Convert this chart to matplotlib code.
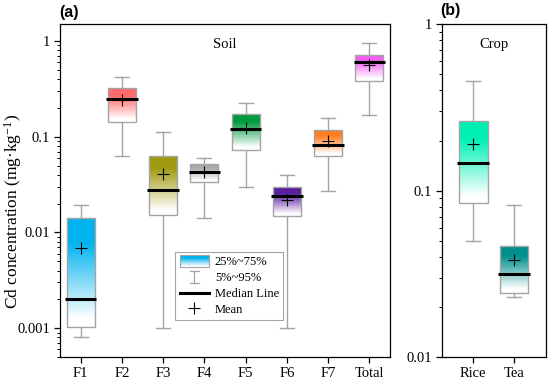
import numpy as np
import matplotlib
matplotlib.use("Agg")
import matplotlib.pyplot as plt
from matplotlib.patches import Rectangle
from matplotlib.lines import Line2D
from matplotlib.legend_handler import HandlerBase
from matplotlib.colors import to_rgb

plt.rcParams['font.family'] = ['Liberation Serif', 'DejaVu Serif']
plt.rcParams['font.size'] = 10.5
plt.rcParams['mathtext.fontset'] = 'custom'
plt.rcParams['mathtext.rm'] = 'Liberation Serif'
plt.rcParams['mathtext.it'] = 'Liberation Serif:italic'

# soil (a)
soil_labels = ["F1", "F2", "F3", "F4", "F5", "F6", "F7", "Total"]
soil_p5 = [0.00081, 0.063, 0.001, 0.0141, 0.0295, 0.001, 0.027, 0.168]
soil_q1 = [0.00103, 0.143, 0.0153, 0.0335, 0.073, 0.0148, 0.063, 0.383]
soil_med = [0.00203, 0.247, 0.028, 0.0432, 0.121, 0.024, 0.082, 0.604]
soil_mean = [0.0068, 0.24, 0.0406, 0.043, 0.124, 0.0219, 0.0908, 0.558]
soil_q3 = [0.0141, 0.319, 0.0634, 0.0523, 0.174, 0.0297, 0.117, 0.721]
soil_p95 = [0.0194, 0.425, 0.112, 0.0596, 0.223, 0.040, 0.157, 0.953]
soil_colors = ["#00b2ee", "#ff6a6a", "#a09a10", "#aaaaaa", "#009a3e",
               "#5a1fa0", "#ff7f20", "#f060f0"]

# crop (b)
crop_labels = ["Rice", "Tea"]
crop_p5 = [0.050, 0.0231]
crop_q1 = [0.084, 0.0244]
crop_med = [0.146, 0.0316]
crop_mean = [0.192, 0.0383]
crop_q3 = [0.261, 0.0465]
crop_p95 = [0.458, 0.0817]
crop_colors = ["#00f0b4", "#00908c"]

GREY = "#a4a4a4"


def frac_color(c, t):
    # t = 0 at top of box, 1 at bottom
    w = np.clip((0.92 - t) / 0.7, 0, 1)
    rgb = np.array(to_rgb(c))
    return tuple(rgb * w + (1 - w))


def draw_box(ax, x, p5, q1, med, mean, q3, p95, color, width=0.68):
    lo, hi = np.log10(q1), np.log10(q3)
    n = 60
    edges = np.linspace(hi, lo, n + 1)
    for i in range(n):
        t = (i + 0.5) / n
        ax.add_patch(Rectangle((x - width / 2, 10 ** edges[i + 1]), width,
                               10 ** edges[i] - 10 ** edges[i + 1],
                               facecolor=frac_color(color, t), edgecolor='none',
                               zorder=2))
    ax.add_patch(Rectangle((x - width / 2, q1), width, q3 - q1, facecolor='none',
                           edgecolor=GREY, lw=1.0, zorder=3))
    ax.plot([x, x], [q3, p95], color=GREY, lw=1.0, zorder=1)
    ax.plot([x, x], [p5, q1], color=GREY, lw=1.0, zorder=1)
    ax.plot([x - width / 4, x + width / 4], [p95, p95], color=GREY, lw=1.0, zorder=1)
    ax.plot([x - width / 4, x + width / 4], [p5, p5], color=GREY, lw=1.0, zorder=1)
    ax.plot([x - width / 2 - 0.04, x + width / 2 + 0.04], [med, med], color='black',
            lw=2.2, zorder=4, solid_capstyle='butt')
    ax.plot([x], [mean], marker='+', color='black', ms=9, mew=0.8, zorder=5)


class GradHandler(HandlerBase):
    def create_artists(self, legend, orig_handle, xdescent, ydescent, width,
                       height, fontsize, trans):
        arts = []
        n = 20
        h = height * 1.4
        y0 = -ydescent - (h - height) / 2
        for i in range(n):
            t = (i + 0.5) / n
            arts.append(Rectangle((-xdescent, y0 + h * (1 - (i + 1) / n)), width, h / n,
                                  facecolor=frac_color("#00b2ee", t), edgecolor='none',
                                  transform=trans))
        arts.append(Rectangle((-xdescent, y0), width, h, facecolor='none',
                              edgecolor=GREY, lw=0.8, transform=trans))
        return arts


class WhiskerHandler(HandlerBase):
    def create_artists(self, legend, orig_handle, xdescent, ydescent, width,
                       height, fontsize, trans):
        cx = -xdescent + width / 2
        y0 = -ydescent - height * 0.2
        y1 = -ydescent + height * 1.2
        cw = width * 0.15
        lines = [Line2D([cx, cx], [y0, y1], color=GREY, lw=0.9, transform=trans),
                 Line2D([cx - cw, cx + cw], [y0, y0], color=GREY, lw=0.9, transform=trans),
                 Line2D([cx - cw, cx + cw], [y1, y1], color=GREY, lw=0.9, transform=trans)]
        return lines


fig = plt.figure(figsize=(5.5, 3.83), dpi=100)
ax1 = fig.add_axes([0.109, 0.068, 0.6, 0.869])
ax2 = fig.add_axes([0.803, 0.067, 0.189, 0.870])

for i in range(len(soil_labels)):
    draw_box(ax1, i + 1, soil_p5[i], soil_q1[i], soil_med[i], soil_mean[i],
             soil_q3[i], soil_p95[i], soil_colors[i])
for i in range(len(crop_labels)):
    draw_box(ax2, i + 1, crop_p5[i], crop_q1[i], crop_med[i], crop_mean[i],
             crop_q3[i], crop_p95[i], crop_colors[i], width=0.7)

ax1.set_yscale('log')
ax1.set_ylim(0.0005, 1.5)
ax1.set_xlim(0.5, len(soil_labels) + 0.5)
ax1.set_xticks(range(1, len(soil_labels) + 1))
ax1.set_xticklabels(soil_labels)
ax1.set_yticks([0.001, 0.01, 0.1, 1])
ax1.set_yticklabels(["0.001", "0.01", "0.1", "1"])
ax1.text(0.5, 0.94, "Soil", transform=ax1.transAxes, ha='center', va='center')

ax2.set_yscale('log')
ax2.set_ylim(0.01, 1)
ax2.set_xlim(0.223, 2.777)
ax2.set_xticks([1, 2])
ax2.set_xticklabels(crop_labels)
ax2.set_yticks([0.01, 0.1, 1])
ax2.set_yticklabels(["0.01", "0.1", "1"])
ax2.text(0.5, 0.94, "Crop", transform=ax2.transAxes, ha='center', va='center')

for ax in (ax1, ax2):
    ax.tick_params(which='major', length=4, width=0.9, right=False, top=False, pad=3)
    ax.tick_params(which='minor', length=2.2, width=0.7, right=False, top=False)
    ax.tick_params(axis='x', which='minor', bottom=False)
    for s in ax.spines.values():
        s.set_linewidth(0.9)

fig.text(13.5 / 550, 1 - 211 / 383, "Cd concentration (mg·kg$^{-1}$)", rotation=90,
         ha='center', va='center', fontsize=12.5)
fig.text(59 / 550, 1 - 12 / 383, "(a)", family='Liberation Sans', weight='bold',
         fontsize=11.5, va='center', ha='left')
fig.text(440 / 550, 1 - 11 / 383, "(b)", family='Liberation Sans', weight='bold',
         fontsize=11.5, va='center', ha='left')

handles = [Rectangle((0, 0), 1, 1), object(),
           Line2D([], [], color='black', lw=2.2),
           Line2D([], [], color='black', marker='+', ls='none', ms=9, mew=0.8)]
labels = ["25%~75%", "5%~95%", "Median Line", "Mean"]
leg = ax1.legend(handles, labels, loc='lower left', bbox_to_anchor=(0.35, 0.111),
                 handler_map={Rectangle: GradHandler(), object: WhiskerHandler()},
                 frameon=True, fancybox=False, edgecolor=GREY, framealpha=1,
                 handlelength=2.3, handletextpad=0.5, labelspacing=0.3,
                 borderpad=0.35, borderaxespad=0, fontsize=9)
leg.get_frame().set_linewidth(0.8)

fig.savefig("out.png", dpi=100)
